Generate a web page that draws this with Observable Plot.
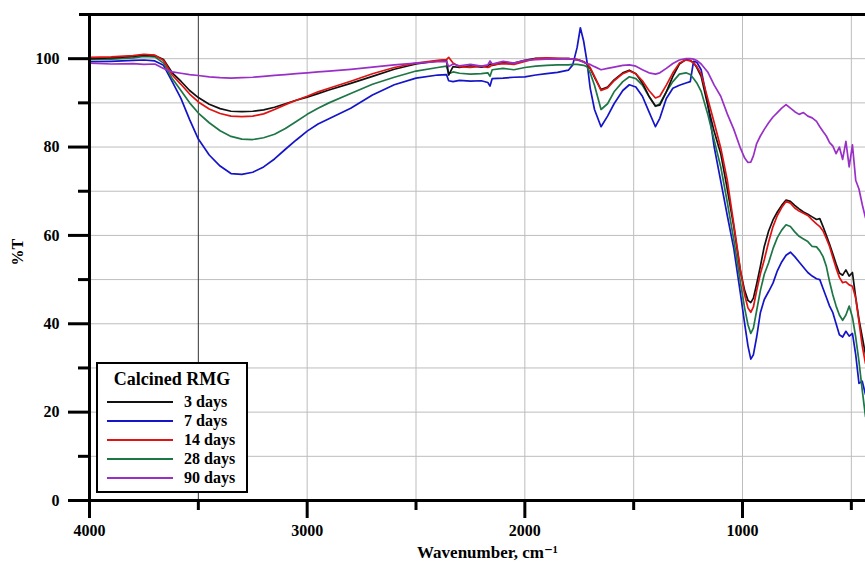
<!DOCTYPE html>
<html>
<head>
<meta charset="utf-8">
<script src="https://cdn.jsdelivr.net/npm/d3@7"></script>
<script src="https://cdn.jsdelivr.net/npm/@observablehq/plot@0.6"></script>
<style>
  html, body { margin: 0; padding: 0; background: #fff; }
  #wrap { position: relative; width: 865px; height: 562px; overflow: hidden; }
  #legend { position: absolute; left: 96px; top: 362px; width: 148px; height: 127px;
    border: 2px solid #000; background: #fff; font-family: "Liberation Serif", "DejaVu Serif", serif; font-weight: bold; }
  #legend .title { position: absolute; left: 0; width: 100%; top: 5px; text-align: center; font-size: 18px; }
  #legend .row { position: absolute; left: 9px; height: 18px; font-size: 16px; line-height: 18px; }
  #legend .sw { position: absolute; left: 0; top: 8px; width: 66px; height: 0; border-top: 2px solid; }
  #legend .lab { position: absolute; left: 77px; top: 0; white-space: nowrap; }
</style>
</head>
<body>
<div id="wrap"><div id="chart"></div><div id="legend"></div></div>
<script>
// Wavenumbers (cm-1)
const wn = [4000,3900,3800,3750,3700,3660,3620,3580,3540,3500,3450,3400,3350,3300,3250,3200,3150,3100,3050,3000,2950,2900,2800,2700,2600,2500,2400,2360,2350,2330,2300,2250,2200,2170,2160,2150,2100,2050,2000,1950,1900,1850,1800,1780,1760,1745,1730,1715,1700,1680,1650,1620,1590,1550,1520,1490,1460,1430,1400,1380,1350,1320,1290,1260,1240,1225,1210,1190,1160,1130,1100,1070,1040,1010,990,975,962,950,935,918,900,880,860,840,820,800,780,760,740,720,700,680,660,645,630,615,600,585,570,555,540,525,510,495,480,465,450,435];

const t3 = [100.0,100.2,100.5,100.8,100.7,99.8,96.8,94.9,92.8,91.2,89.7,88.7,88.1,88.0,88.1,88.4,89.0,89.8,90.6,91.3,92.1,92.9,94.4,96.0,97.6,98.8,99.5,99.7,96.3,98.2,98.0,98.4,98.1,98.3,98.8,98.5,99.1,99.0,99.6,100.1,100.1,100.0,100.0,99.9,99.8,99.6,99.3,98.8,97.8,95.8,93.0,93.6,95.2,96.8,97.4,96.6,94.5,91.5,89.3,89.5,92.5,96.0,98.8,99.8,99.6,99.1,98.0,96.0,89.5,83.5,78.5,70.5,62.0,52.0,47.5,45.3,44.8,45.8,49.0,53.0,57.5,61.0,63.5,65.3,66.8,68.0,67.7,66.8,66.0,65.3,64.8,64.2,63.6,63.8,62.0,60.0,58.0,55.8,53.5,51.5,51.0,52.2,50.8,51.6,46.0,41.0,37.0,33.0];

const t7 = [99.3,99.4,99.6,99.7,99.5,98.5,94.8,91.0,86.2,81.8,78.2,75.7,74.0,73.8,74.3,75.5,77.3,79.5,81.6,83.6,85.2,86.4,88.8,91.8,94.1,95.6,96.3,96.4,95.0,94.8,95.1,94.9,95.0,94.6,93.8,95.5,95.6,95.8,95.9,96.3,96.6,96.9,97.4,98.6,102.5,107.0,104.0,99.5,93.4,88.5,84.6,87.0,89.8,92.8,94.1,93.6,91.5,88.0,84.6,86.5,91.0,93.3,94.0,94.5,94.8,99.4,99.2,97.5,90.0,80.0,72.3,64.5,57.0,47.0,40.0,35.0,32.0,33.0,37.0,42.5,45.5,47.3,49.2,52.0,54.0,55.5,56.2,55.2,54.0,52.8,51.6,50.8,50.2,50.0,48.0,46.0,44.0,42.5,40.0,37.5,37.0,38.3,37.2,37.8,33.0,26.5,27.0,24.0];

const t14 = [100.3,100.4,100.7,101.0,100.8,99.6,96.3,94.2,92.0,90.2,88.6,87.6,87.0,86.9,87.0,87.5,88.5,89.6,90.6,91.5,92.5,93.3,94.9,96.6,98.0,99.0,99.6,99.8,100.3,99.0,98.2,98.0,98.3,98.0,98.2,98.6,98.9,98.7,99.4,100.0,100.2,100.1,100.0,99.9,99.8,99.6,99.3,98.9,98.0,96.0,92.8,93.4,95.0,96.6,97.2,96.6,95.0,92.8,91.1,91.5,94.0,96.8,99.0,99.7,99.5,99.1,98.2,96.5,91.0,85.5,79.8,72.5,62.5,52.3,46.5,43.6,42.6,43.8,47.5,51.3,54.5,58.5,62.0,64.5,66.3,67.7,67.3,66.2,65.5,65.0,64.5,63.5,62.6,62.0,61.0,59.3,57.5,55.0,52.6,50.5,49.3,49.5,48.8,48.5,45.8,40.5,35.0,31.0];

const t28 = [99.8,99.9,100.2,100.5,100.4,99.0,95.5,92.8,90.0,87.7,85.5,83.7,82.4,81.8,81.7,82.1,82.9,84.2,85.8,87.4,88.8,90.0,92.1,94.2,95.8,97.2,98.0,98.3,96.6,97.0,96.7,96.5,96.6,96.8,96.0,97.5,97.8,97.5,98.0,98.3,98.5,98.6,98.6,98.7,98.7,98.6,98.5,98.2,96.8,94.0,88.5,89.8,92.5,94.8,95.9,95.5,94.0,91.5,89.2,89.8,92.5,94.8,96.5,96.8,96.4,95.5,94.5,92.6,87.5,81.5,75.5,67.5,59.0,49.5,43.5,39.8,37.8,39.0,43.0,47.5,51.2,53.8,57.0,59.5,61.2,62.4,62.0,60.8,59.8,59.2,58.6,57.5,57.4,56.5,55.2,53.0,49.5,46.5,44.0,42.0,40.8,42.0,44.0,41.5,37.0,31.5,25.0,19.0];

const t90 = [99.0,98.8,98.9,98.7,98.8,97.8,97.0,96.7,96.4,96.2,95.9,95.7,95.6,95.7,95.8,96.0,96.2,96.4,96.6,96.8,97.0,97.2,97.6,98.1,98.6,99.0,99.3,99.4,98.2,98.8,98.4,98.7,98.3,98.6,99.5,98.8,99.4,99.0,99.6,99.8,99.9,99.9,100.0,99.9,99.7,99.5,99.2,98.9,98.7,98.2,97.5,97.8,98.1,98.5,98.6,98.3,97.5,96.8,96.5,96.8,97.8,98.9,99.7,100.0,100.0,99.9,99.6,98.8,97.0,94.0,91.5,87.5,84.0,79.8,77.5,76.5,76.6,78.0,80.8,82.5,84.0,85.5,86.8,87.8,88.8,89.6,88.8,88.0,87.4,87.8,87.0,86.6,85.8,84.6,83.5,82.5,81.0,80.2,78.5,80.0,77.2,81.3,75.5,80.5,72.5,70.5,67.0,64.0];

const seriesNames = ["3 days", "7 days", "14 days", "28 days", "90 days"];
const seriesColors = ["#111111", "#1414c8", "#e01212", "#1d7646", "#9a2fc8"];
const seriesValues = [t3, t7, t14, t28, t90];
const drawOrder = ["7 days", "28 days", "3 days", "14 days", "90 days"];

const yMajor = [0, 20, 40, 60, 80, 100];
const yMinor = [10, 30, 50, 70, 90];
const xMajor = [4000, 3000, 2000, 1000];
const xMinor = [3500, 2500, 1500, 500];
const yGrid = [10, 20, 30, 40, 50, 60, 70, 80, 90, 100];
const xGrid = [3000, 2500, 2000, 1500, 1000, 500];

const data = seriesNames.flatMap((s, i) => wn.map((w, j) => ({s, w, v: seriesValues[i][j]})));

const font = "'Liberation Serif', 'DejaVu Serif', serif";

const chart = Plot.plot({
  width: 865,
  height: 562,
  marginLeft: 89,
  marginRight: 0,
  marginTop: 14,
  marginBottom: 62,
  style: {fontFamily: font, fontWeight: "bold", fontSize: "16px", background: "#fff", color: "#000"},
  x: {domain: [4000, 435], axis: null},
  y: {domain: [0, 110], axis: null},
  color: {domain: seriesNames, range: seriesColors},
  marks: [
    Plot.gridY(yGrid, {stroke: "#bdbdbd", strokeOpacity: 1, strokeWidth: 1}),
    Plot.gridX(xGrid, {stroke: "#bdbdbd", strokeOpacity: 1, strokeWidth: 1}),
    Plot.gridX([3500], {stroke: "#333", strokeOpacity: 1, strokeWidth: 1}),
    ...drawOrder.map(s => Plot.line(data.filter(d => d.s === s), {x: "w", y: "v", stroke: "s", strokeWidth: 1.7, curve: "linear"})),
    Plot.axisY(yMajor, {tickSize: 21, tickPadding: 9, strokeWidth: 3, fontSize: 16, label: null, tickFormat: d => String(d)}),
    Plot.axisY(yMinor, {tickSize: 11, strokeWidth: 3, label: null, text: null}),
    Plot.axisX(xMajor, {tickSize: 18, tickPadding: 6, strokeWidth: 3, fontSize: 16, label: null, tickFormat: d => String(d)}),
    Plot.axisX(xMinor, {tickSize: 10, strokeWidth: 3, label: null, text: null}),
    Plot.ruleY([0], {strokeWidth: 3}),
    Plot.ruleY([110], {strokeWidth: 3, insetLeft: -10}),
    Plot.ruleX([4000], {strokeWidth: 3}),
    Plot.text(["%T"], {frameAnchor: "left", dx: -72, dy: 8, rotate: -90, fontSize: 16, fontWeight: "bold"}),
    Plot.text(["Wavenumber, cm\u207B\u00B9"], {frameAnchor: "bottom", dy: 57, dx: 10, fontSize: 17, fontWeight: "bold"})
  ]
});
document.getElementById("chart").appendChild(chart);

// Legend
const legend = document.getElementById("legend");
const title = document.createElement("div");
title.className = "title";
title.textContent = "Calcined RMG";
legend.appendChild(title);
seriesNames.forEach((s, i) => {
  const row = document.createElement("div");
  row.className = "row";
  row.style.top = (29 + i * 19) + "px";
  const sw = document.createElement("div");
  sw.className = "sw";
  sw.style.borderTopColor = seriesColors[i];
  const lab = document.createElement("div");
  lab.className = "lab";
  lab.textContent = s;
  row.appendChild(sw);
  row.appendChild(lab);
  legend.appendChild(row);
});
</script>
</body>
</html>
